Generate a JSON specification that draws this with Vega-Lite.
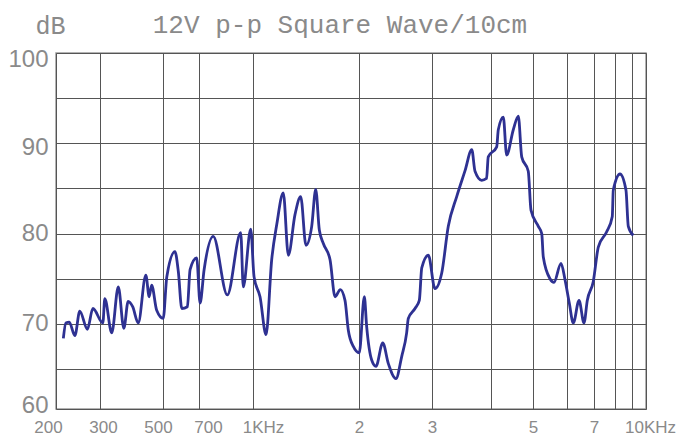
{
  "$schema": "https://vega.github.io/schema/vega-lite/v6.json",
  "width": 590,
  "height": 356,
  "autosize": "none",
  "padding": {"left": 56, "top": 53, "right": 37, "bottom": 38},
  "background": "white",
  "config": {
    "view": {"stroke": "#9a9a9a", "strokeWidth": 1.5},
    "axis": {"labelColor": "#8a8a8a", "labelFont": "Liberation Sans", "gridColor": "#555555", "gridWidth": 1, "gridOpacity": 1, "ticks": false, "domain": false}
  },
  "title": {
    "text": "12V p-p Square Wave/10cm",
    "anchor": "middle",
    "dx": -11,
    "offset": 0,
    "dy": 46,
    "baseline": "alphabetic",
    "font": "Liberation Mono",
    "fontSize": 26,
    "fontWeight": "normal",
    "color": "#8a8a8a"
  },
  "data": {
    "values": [
      {"f": 214, "dB": 68.4}, {"f": 219, "dB": 70.1}, {"f": 226, "dB": 70.2}, {"f": 238, "dB": 68.7},
      {"f": 249, "dB": 71.4}, {"f": 267, "dB": 69.4}, {"f": 281, "dB": 71.7}, {"f": 307, "dB": 70.1},
      {"f": 312, "dB": 72.8}, {"f": 330, "dB": 69.0}, {"f": 348, "dB": 74.1}, {"f": 364, "dB": 69.5},
      {"f": 377, "dB": 72.5}, {"f": 391, "dB": 71.9}, {"f": 409, "dB": 70.1}, {"f": 435, "dB": 75.4},
      {"f": 447, "dB": 73.0}, {"f": 456, "dB": 74.3}, {"f": 475, "dB": 71.5}, {"f": 501, "dB": 70.6},
      {"f": 518, "dB": 75.2}, {"f": 559, "dB": 78.0}, {"f": 577, "dB": 75.8}, {"f": 596, "dB": 71.7},
      {"f": 628, "dB": 71.9}, {"f": 644, "dB": 76.0}, {"f": 685, "dB": 77.3}, {"f": 705, "dB": 72.3},
      {"f": 724, "dB": 76.0}, {"f": 769, "dB": 79.7}, {"f": 844, "dB": 73.2}, {"f": 922, "dB": 80.1},
      {"f": 938, "dB": 74.1}, {"f": 985, "dB": 80.5}, {"f": 1007, "dB": 75.2}, {"f": 1047, "dB": 73.0},
      {"f": 1089, "dB": 68.8}, {"f": 1130, "dB": 77.1}, {"f": 1168, "dB": 81.0}, {"f": 1219, "dB": 84.5},
      {"f": 1260, "dB": 77.6}, {"f": 1316, "dB": 82.1}, {"f": 1366, "dB": 84.1}, {"f": 1414, "dB": 78.7},
      {"f": 1468, "dB": 80.8}, {"f": 1507, "dB": 84.9}, {"f": 1543, "dB": 80.4}, {"f": 1584, "dB": 78.9},
      {"f": 1655, "dB": 77.1}, {"f": 1710, "dB": 73.0}, {"f": 1770, "dB": 73.8}, {"f": 1825, "dB": 72.6},
      {"f": 1865, "dB": 69.3}, {"f": 1927, "dB": 67.5}, {"f": 2003, "dB": 66.8}, {"f": 2060, "dB": 73.0},
      {"f": 2087, "dB": 69.7}, {"f": 2146, "dB": 66.0}, {"f": 2198, "dB": 65.3}, {"f": 2282, "dB": 67.9},
      {"f": 2354, "dB": 65.6}, {"f": 2456, "dB": 63.8}, {"f": 2536, "dB": 66.4}, {"f": 2606, "dB": 69.0},
      {"f": 2630, "dB": 70.6}, {"f": 2730, "dB": 71.7}, {"f": 2796, "dB": 72.6}, {"f": 2834, "dB": 76.2},
      {"f": 2940, "dB": 77.6}, {"f": 3044, "dB": 73.9}, {"f": 3145, "dB": 75.6}, {"f": 3248, "dB": 80.8},
      {"f": 3384, "dB": 84.1}, {"f": 3526, "dB": 87.0}, {"f": 3642, "dB": 89.3}, {"f": 3700, "dB": 86.9},
      {"f": 3822, "dB": 85.9}, {"f": 3914, "dB": 86.1}, {"f": 3947, "dB": 88.5}, {"f": 4123, "dB": 89.6},
      {"f": 4158, "dB": 91.5}, {"f": 4270, "dB": 92.9}, {"f": 4347, "dB": 88.7}, {"f": 4503, "dB": 91.5},
      {"f": 4625, "dB": 93.0}, {"f": 4709, "dB": 88.5}, {"f": 4876, "dB": 86.9}, {"f": 4947, "dB": 82.6},
      {"f": 5145, "dB": 80.8}, {"f": 5240, "dB": 80.0}, {"f": 5284, "dB": 77.4}, {"f": 5477, "dB": 75.0},
      {"f": 5595, "dB": 74.6}, {"f": 5810, "dB": 76.7}, {"f": 5936, "dB": 74.9}, {"f": 6079, "dB": 72.3},
      {"f": 6220, "dB": 70.1}, {"f": 6427, "dB": 72.6}, {"f": 6611, "dB": 70.1}, {"f": 6737, "dB": 72.6},
      {"f": 6972, "dB": 74.7}, {"f": 7194, "dB": 78.5}, {"f": 7588, "dB": 80.2}, {"f": 7863, "dB": 81.9},
      {"f": 7913, "dB": 84.8}, {"f": 8282, "dB": 86.6}, {"f": 8633, "dB": 84.8}, {"f": 8772, "dB": 80.8},
      {"f": 9088, "dB": 79.8}
    ]
  },
  "mark": {"type": "line", "interpolate": "monotone", "color": "#2e3192", "strokeWidth": 2.8},
  "encoding": {
    "x": {
      "field": "f",
      "type": "quantitative",
      "scale": {
        "type": "log",
        "nice": false,
        "domain": [200, 300, 500, 700, 1000, 2000, 3000, 4000, 5000, 6000, 7000, 8000, 9000, 10000],
        "range": [0, 44, 107, 143, 197, 303, 376, 435, 477, 511, 538, 559, 576, 590]
      },
      "axis": {
        "title": null,
        "values": [200, 300, 500, 700, 1000, 2000, 3000, 4000, 5000, 6000, 7000, 8000, 9000, 10000],
        "labelExpr": "datum.value == 1000 ? '1KHz' : datum.value == 10000 ? '10KHz' : datum.value == 2000 ? '2' : datum.value == 3000 ? '3' : datum.value == 5000 ? '5' : datum.value == 7000 ? '7' : datum.value < 1000 ? format(datum.value, 'd') : ''",
        "labelFontSize": 17,
        "labelPadding": 10,
        "labelFlush": false,
        "labelOverlap": false,
        "labelOffset": {"condition": [{"test": "datum.value == 200", "value": -8}, {"test": "datum.value == 300", "value": 3}, {"test": "datum.value == 500", "value": -5}, {"test": "datum.value == 700", "value": 9}, {"test": "datum.value == 1000", "value": 10}, {"test": "datum.value == 10000", "value": 4}], "value": 0},
        "grid": true
      }
    },
    "y": {
      "field": "dB",
      "type": "quantitative",
      "scale": {"domain": [60, 65, 100], "range": [356, 316, 0], "nice": false, "zero": false},
      "axis": {
        "title": "dB",
        "titleAngle": 0,
        "titleX": -6,
        "titleY": -20,
        "titleAlign": "center",
        "titleBaseline": "alphabetic",
        "titleFont": "Liberation Mono",
        "titleFontSize": 25,
        "titleFontWeight": "normal",
        "titleColor": "#8a8a8a",
        "values": [60, 65, 70, 75, 80, 85, 90, 95, 100],
        "labelExpr": "datum.value % 10 == 0 ? format(datum.value, 'd') : ''",
        "labelFontSize": 24,
        "labelPadding": 8,
        "labelFlush": false,
        "labelOverlap": false,
        "labelOffset": {"condition": [{"test": "datum.value == 100", "value": 6}, {"test": "datum.value == 90", "value": 4}, {"test": "datum.value == 60", "value": -4}], "value": 0},
        "grid": true
      }
    }
  }
}
